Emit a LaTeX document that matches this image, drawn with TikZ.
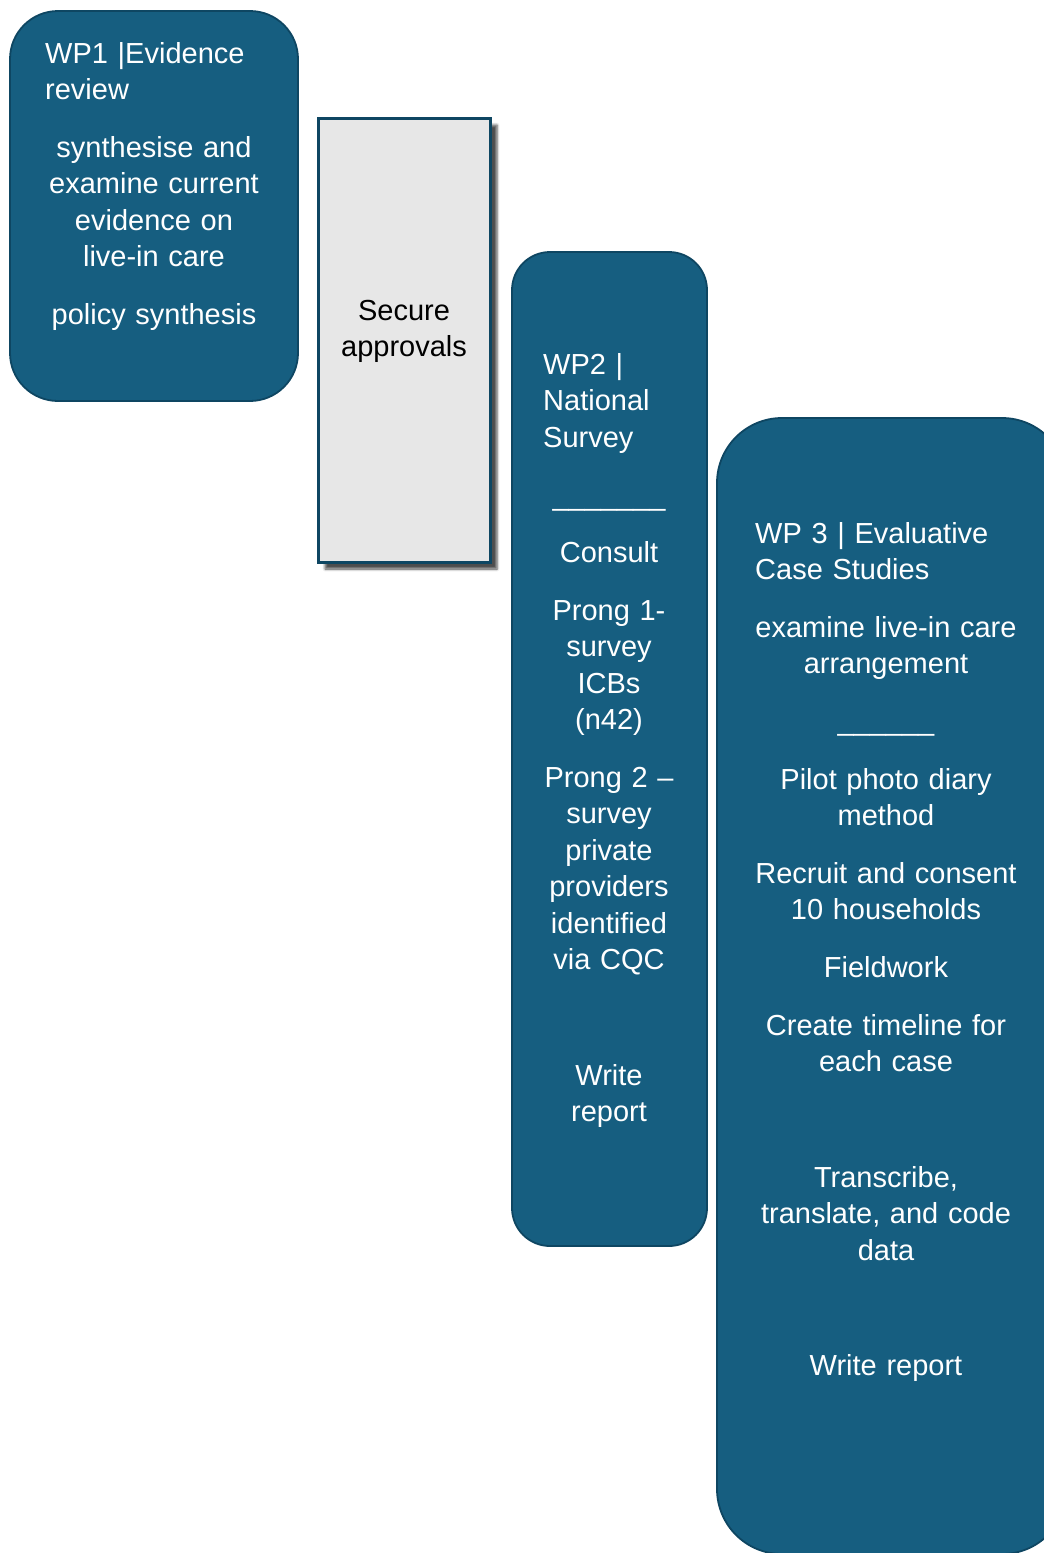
\documentclass[tikz,border=0pt]{standalone}
\usepackage{fontspec}
\setmainfont{Liberation Sans}
\usetikzlibrary{shadows.blur}
\definecolor{wpblue}{RGB}{22,94,128}
\definecolor{wpedge}{RGB}{14,70,98}
\definecolor{apgrey}{RGB}{231,231,231}
\colorlet{apedge}{wpedge}

\begin{document}
\begin{tikzpicture}[x=1pt,y=-1pt,
  wpbox/.style={draw=wpedge,line width=1.8pt,fill=wpblue,inner sep=0pt},
  apbox/.style={draw=apedge,line width=3pt,fill=apgrey,inner sep=0pt,
    blur shadow={shadow xshift=7pt,shadow yshift=-7pt,shadow blur radius=2.5pt,shadow opacity=70}},
  wpfont/.style={inner sep=0pt,font=\fontsize{29}{36.5}\selectfont},
  wphead/.style={wpfont,text=white,text width=#1,align=left,anchor=base west},
  wpmid/.style={wpfont,text=white,text width=#1,align=center,anchor=base},
  apmid/.style={wpfont,text=black,text width=#1,align=center,anchor=base}]
\useasboundingbox (0,0) rectangle (1044,1553);
\clip (0,0) rectangle (1044,1553);

\node[wpbox,rounded corners=48pt,minimum width=288pt,minimum height=390pt] (wpone) at (154,206) {};
\node[apbox,minimum width=172pt,minimum height=444pt] (approvals) at (404,340) {};
\node[wpbox,rounded corners=38pt,minimum width=195pt,minimum height=994pt] (wptwo) at (609.5,749) {};
\node[wpbox,rounded corners=65pt,minimum width=350pt,minimum height=1136pt] (wpthree) at (892,986) {};

\node[wphead=250pt] (wponehead) at (45,63) {WP1 |Evidence\\review};
\node[wpmid=270pt] (wponeaim) at (154,157) {synthesise and\\examine current\\evidence on\\live-in care};
\node[wpmid=270pt] (wponepolicy) at (154,324) {policy synthesis};

\node[apmid=160pt] (approvaltext) at (404,320) {Secure\\approvals};

\node[wphead=150pt] (wptwohead) at (543,374) {WP2 |\\National\\Survey};
\node[wpmid=170pt] (wptworule) at (609,505) {\_\_\_\_\_\_\_};
\node[wpmid=170pt] (wptwoconsult) at (609,562) {Consult};
\node[wpmid=170pt] (wptwoprongone) at (609,620) {Prong 1-\\survey\\ICBs\\(n42)};
\node[wpmid=170pt] (wptwoprongtwo) at (609,787) {Prong 2 –\\survey\\private\\providers\\identified\\via CQC};
\node[wpmid=170pt] (wptworeport) at (609,1085) {Write\\report};

\node[wphead=290pt] (wpthreehead) at (755,543) {WP 3 | Evaluative\\Case Studies};
\node[wpmid=300pt] (wpthreeaim) at (886,637) {examine live-in care\\arrangement};
\node[wpmid=300pt] (wpthreerule) at (886,730) {\_\_\_\_\_\_};
\node[wpmid=300pt] (wpthreepilot) at (886,789) {Pilot photo diary\\method};
\node[wpmid=300pt] (wpthreerecruit) at (886,883) {Recruit and consent\\10 households};
\node[wpmid=300pt] (wpthreefield) at (886,977) {Fieldwork};
\node[wpmid=300pt] (wpthreetimeline) at (886,1035) {Create timeline for\\each case};
\node[wpmid=300pt] (wpthreecode) at (886,1187) {Transcribe,\\translate, and code\\data};
\node[wpmid=300pt] (wpthreereport) at (886,1375) {Write report};
\end{tikzpicture}
\end{document}
